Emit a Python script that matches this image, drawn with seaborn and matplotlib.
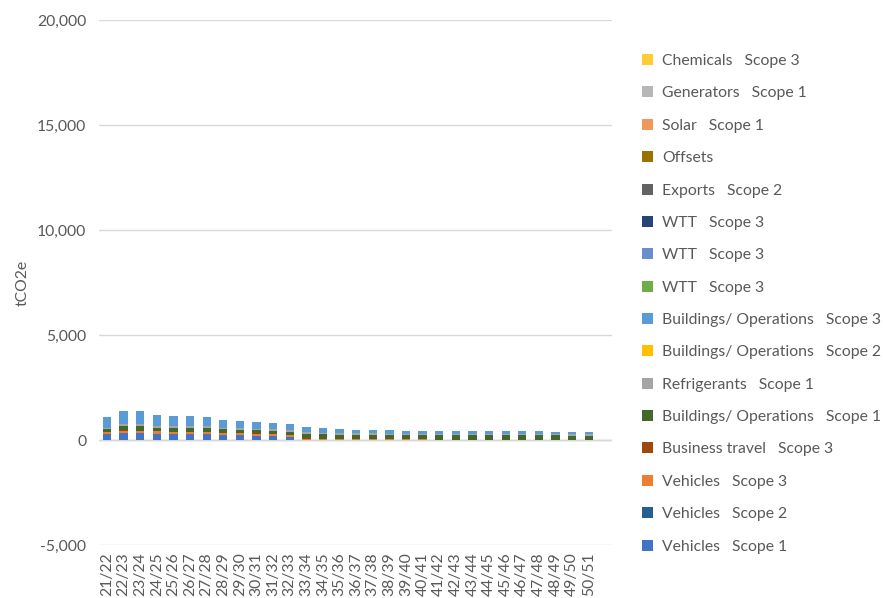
import matplotlib
matplotlib.use("Agg")
import matplotlib.pyplot as plt
from matplotlib.patches import Patch
from matplotlib.ticker import FuncFormatter
import numpy as np
import pandas as pd
import seaborn as sns

# Financial years
years = ["21/22", "22/23", "23/24", "24/25", "25/26", "26/27", "27/28", "28/29",
         "29/30", "30/31", "31/32", "32/33", "33/34", "34/35", "35/36", "36/37",
         "37/38", "38/39", "39/40", "40/41", "41/42", "42/43", "43/44", "44/45",
         "45/46", "46/47", "47/48", "48/49", "49/50", "50/51"]

# Emissions by source, tCO2e per year
vehicles_s1 = [300, 320, 310, 290, 280, 280, 270, 240, 230, 210, 200, 150,
               0, 0, 0, 0, 0, 0, 0, 0, 0, 0, 0, 0, 0, 0, 0, 0, 0, 0]
vehicles_s2 = [0] * 30
vehicles_s3 = [90, 130, 120, 120, 110, 110, 110, 100, 90, 85, 80, 70,
               60, 50, 40, 35, 35, 30, 30, 30, 0, 0, 0, 0, 0, 0, 0, 0, 0, 0]
business_travel_s3 = [15] * 30
buildings_s1 = [110, 200, 200, 160, 160, 160, 170, 150, 150, 150, 145, 170,
                220, 210, 200, 195, 190, 190, 190, 190, 215, 215, 215, 210,
                210, 210, 205, 205, 195, 190]
refrigerants_s1 = [60, 100, 100, 80, 80, 80, 80, 70, 70, 70, 70, 70,
                   70, 70, 70, 70, 70, 70, 70, 70, 70, 70, 70, 65,
                   65, 65, 65, 65, 60, 60]
buildings_s2 = [0] * 30
buildings_s3 = [500, 615, 635, 505, 480, 480, 430, 390, 365, 325, 315, 270,
                255, 225, 200, 175, 150, 150, 145, 145, 145, 145, 140, 130,
                125, 125, 125, 120, 110, 105]
wtt_a_s3 = [0] * 30
wtt_b_s3 = [0] * 30
wtt_c_s3 = [0] * 30
exports_s2 = [0] * 30
offsets = [0] * 30
solar_s1 = [0] * 30
generators_s1 = [0] * 30
chemicals_s3 = [0] * 30

# Series as listed in the legend (top of the stack first)
series_labels = ["Chemicals   Scope 3", "Generators   Scope 1", "Solar   Scope 1",
                 "Offsets", "Exports   Scope 2", "WTT   Scope 3", "WTT   Scope 3",
                 "WTT   Scope 3", "Buildings/ Operations   Scope 3",
                 "Buildings/ Operations   Scope 2", "Refrigerants   Scope 1",
                 "Buildings/ Operations   Scope 1", "Business travel   Scope 3",
                 "Vehicles   Scope 3", "Vehicles   Scope 2", "Vehicles   Scope 1"]
series_colors = ["#FFCD33", "#B7B7B7", "#F1975A", "#997300", "#636363", "#264478",
                 "#698ED0", "#70AD47", "#5B9BD5", "#FFC000", "#A5A5A5", "#43682B",
                 "#9E480E", "#ED7D31", "#255E91", "#4472C4"]
series_values = [chemicals_s3, generators_s1, solar_s1, offsets, exports_s2,
                 wtt_c_s3, wtt_b_s3, wtt_a_s3, buildings_s3, buildings_s2,
                 refrigerants_s1, buildings_s1, business_travel_s3,
                 vehicles_s3, vehicles_s2, vehicles_s1]

table = pd.DataFrame(np.array(series_values).T, index=years)
# Running totals from the bottom of the stack upwards
stack_tops = table.iloc[:, ::-1].cumsum(axis=1).iloc[:, ::-1]

sns.set_theme(style="white")
plt.rcParams["font.family"] = ["Lato", "DejaVu Sans"]
text_color = "#595959"
font_size = 11.3

fig = plt.figure(figsize=(8.83, 5.98), dpi=100)
ax = fig.add_axes([0.1118, 0.0886, 0.5813, 0.878])

# Tallest running total first, each lower layer painted over it
for col, color, vals in zip(stack_tops.columns, series_colors, series_values):
    if not any(vals):
        continue
    sns.barplot(x=years, y=stack_tops[col].values, order=years, color=color,
                width=0.5, saturation=1, linewidth=0, errorbar=None, ax=ax)

ax.set_ylim(-5000, 20000)
ax.set_yticks(np.arange(-5000, 20001, 5000))
ax.yaxis.set_major_formatter(FuncFormatter(lambda v, p: f"{int(v):,}"))
ax.set_xlim(-0.5, 30.4)
ax.set_xticks(range(len(years)))
ax.set_xticklabels(years, rotation=90)
ax.tick_params(axis="both", length=0, colors=text_color, labelsize=font_size)
ax.tick_params(axis="y", pad=9)
ax.tick_params(axis="x", pad=5)

ax.grid(axis="y", color="#D9D9D9", linewidth=1)
ax.set_axisbelow(True)
ax.axhline(0, color="#BFBFBF", linewidth=1, zorder=0.5)
for s in ax.spines.values():
    s.set_visible(False)

ax.set_xlabel("")
ax.set_ylabel("tCO2e", color=text_color, fontsize=font_size, labelpad=5)

handles = [Patch(facecolor=c, edgecolor="none") for c in series_colors]
leg = fig.legend(handles, series_labels, loc="upper left",
                 bbox_to_anchor=(0.72, 0.92), frameon=False,
                 fontsize=font_size, handlelength=0.7, handleheight=0.7,
                 handletextpad=0.6, labelspacing=1.17, borderaxespad=0)
for t in leg.get_texts():
    t.set_color(text_color)

fig.savefig("out.png", dpi=100)
